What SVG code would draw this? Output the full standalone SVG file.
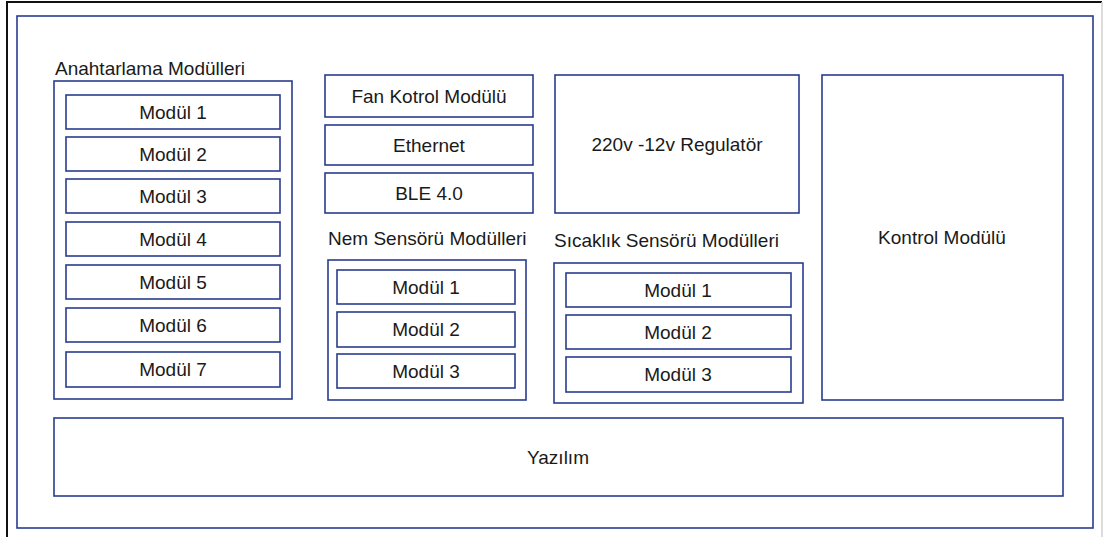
<svg xmlns="http://www.w3.org/2000/svg" width="1105" height="537" viewBox="0 0 1105 537">
  <style>
    .box { fill: #ffffff; stroke: #283c8c; stroke-width: 1.6; }
    .lbl { font-family: "Liberation Sans", Arial, sans-serif; font-size: 19px; fill: #1a1a1a; }
    .c { text-anchor: middle; }
  </style>
  <rect x="0" y="0" width="1105" height="537" fill="#ffffff"/>
  <!-- page frame -->
  <path d="M7 537 V2 H1102" fill="none" stroke="#111111" stroke-width="2"/>
  <line x1="1102" y1="2" x2="1102" y2="537" stroke="#d0d0d0" stroke-width="1.5"/>

  <!-- system boundary -->
  <g id="system">
    <rect class="box" x="17" y="16" width="1076" height="512"/>
  </g>

  <!-- switching modules -->
  <g id="anahtarlama">
    <text class="lbl" x="55" y="75">Anahtarlama Modülleri</text>
    <rect class="box" x="54" y="81" width="238" height="318"/>
    <rect class="box" x="66" y="95" width="214" height="34"/>
    <text class="lbl c" x="173" y="119">Modül 1</text>
    <rect class="box" x="66" y="137" width="214" height="34"/>
    <text class="lbl c" x="173" y="161">Modül 2</text>
    <rect class="box" x="66" y="179" width="214" height="34"/>
    <text class="lbl c" x="173" y="203">Modül 3</text>
    <rect class="box" x="66" y="222" width="214" height="34"/>
    <text class="lbl c" x="173" y="246">Modül 4</text>
    <rect class="box" x="66" y="265" width="214" height="34"/>
    <text class="lbl c" x="173" y="289">Modül 5</text>
    <rect class="box" x="66" y="308" width="214" height="34"/>
    <text class="lbl c" x="173" y="332">Modül 6</text>
    <rect class="box" x="66" y="352" width="214" height="35"/>
    <text class="lbl c" x="173" y="376">Modül 7</text>
  </g>

  <g id="fan">
    <rect class="box" x="325" y="75" width="208" height="42"/>
    <text class="lbl c" x="429" y="103">Fan Kotrol Modülü</text>
  </g>
  <g id="ethernet">
    <rect class="box" x="325" y="125" width="208" height="40"/>
    <text class="lbl c" x="429" y="152">Ethernet</text>
  </g>
  <g id="ble">
    <rect class="box" x="325" y="173" width="208" height="40"/>
    <text class="lbl c" x="429" y="200">BLE 4.0</text>
  </g>

  <!-- humidity sensor modules -->
  <g id="nem">
    <text class="lbl" x="328" y="245">Nem Sensörü Modülleri</text>
    <rect class="box" x="328" y="260" width="198" height="140"/>
    <rect class="box" x="337" y="270" width="178" height="34"/>
    <text class="lbl c" x="426" y="294">Modül 1</text>
    <rect class="box" x="337" y="312" width="178" height="35"/>
    <text class="lbl c" x="426" y="336">Modül 2</text>
    <rect class="box" x="337" y="354" width="178" height="34"/>
    <text class="lbl c" x="426" y="378">Modül 3</text>
  </g>

  <g id="regulator">
    <rect class="box" x="555" y="75" width="244" height="138"/>
    <text class="lbl c" x="677" y="151">220v -12v Regulatör</text>
  </g>

  <!-- temperature sensor modules -->
  <g id="sicaklik">
    <text class="lbl" x="554" y="247">Sıcaklık Sensörü Modülleri</text>
    <rect class="box" x="554" y="263" width="249" height="140"/>
    <rect class="box" x="566" y="273" width="225" height="34"/>
    <text class="lbl c" x="678" y="297">Modül 1</text>
    <rect class="box" x="566" y="315" width="225" height="34"/>
    <text class="lbl c" x="678" y="339">Modül 2</text>
    <rect class="box" x="566" y="357" width="225" height="35"/>
    <text class="lbl c" x="678" y="381">Modül 3</text>
  </g>

  <g id="kontrol">
    <rect class="box" x="822" y="75" width="241" height="325"/>
    <text class="lbl c" x="942" y="244">Kontrol Modülü</text>
  </g>

  <g id="yazilim">
    <rect class="box" x="54" y="418" width="1009" height="78"/>
    <text class="lbl c" x="558" y="464">Yazılım</text>
  </g>

  <g id="connectors"></g>
</svg>
